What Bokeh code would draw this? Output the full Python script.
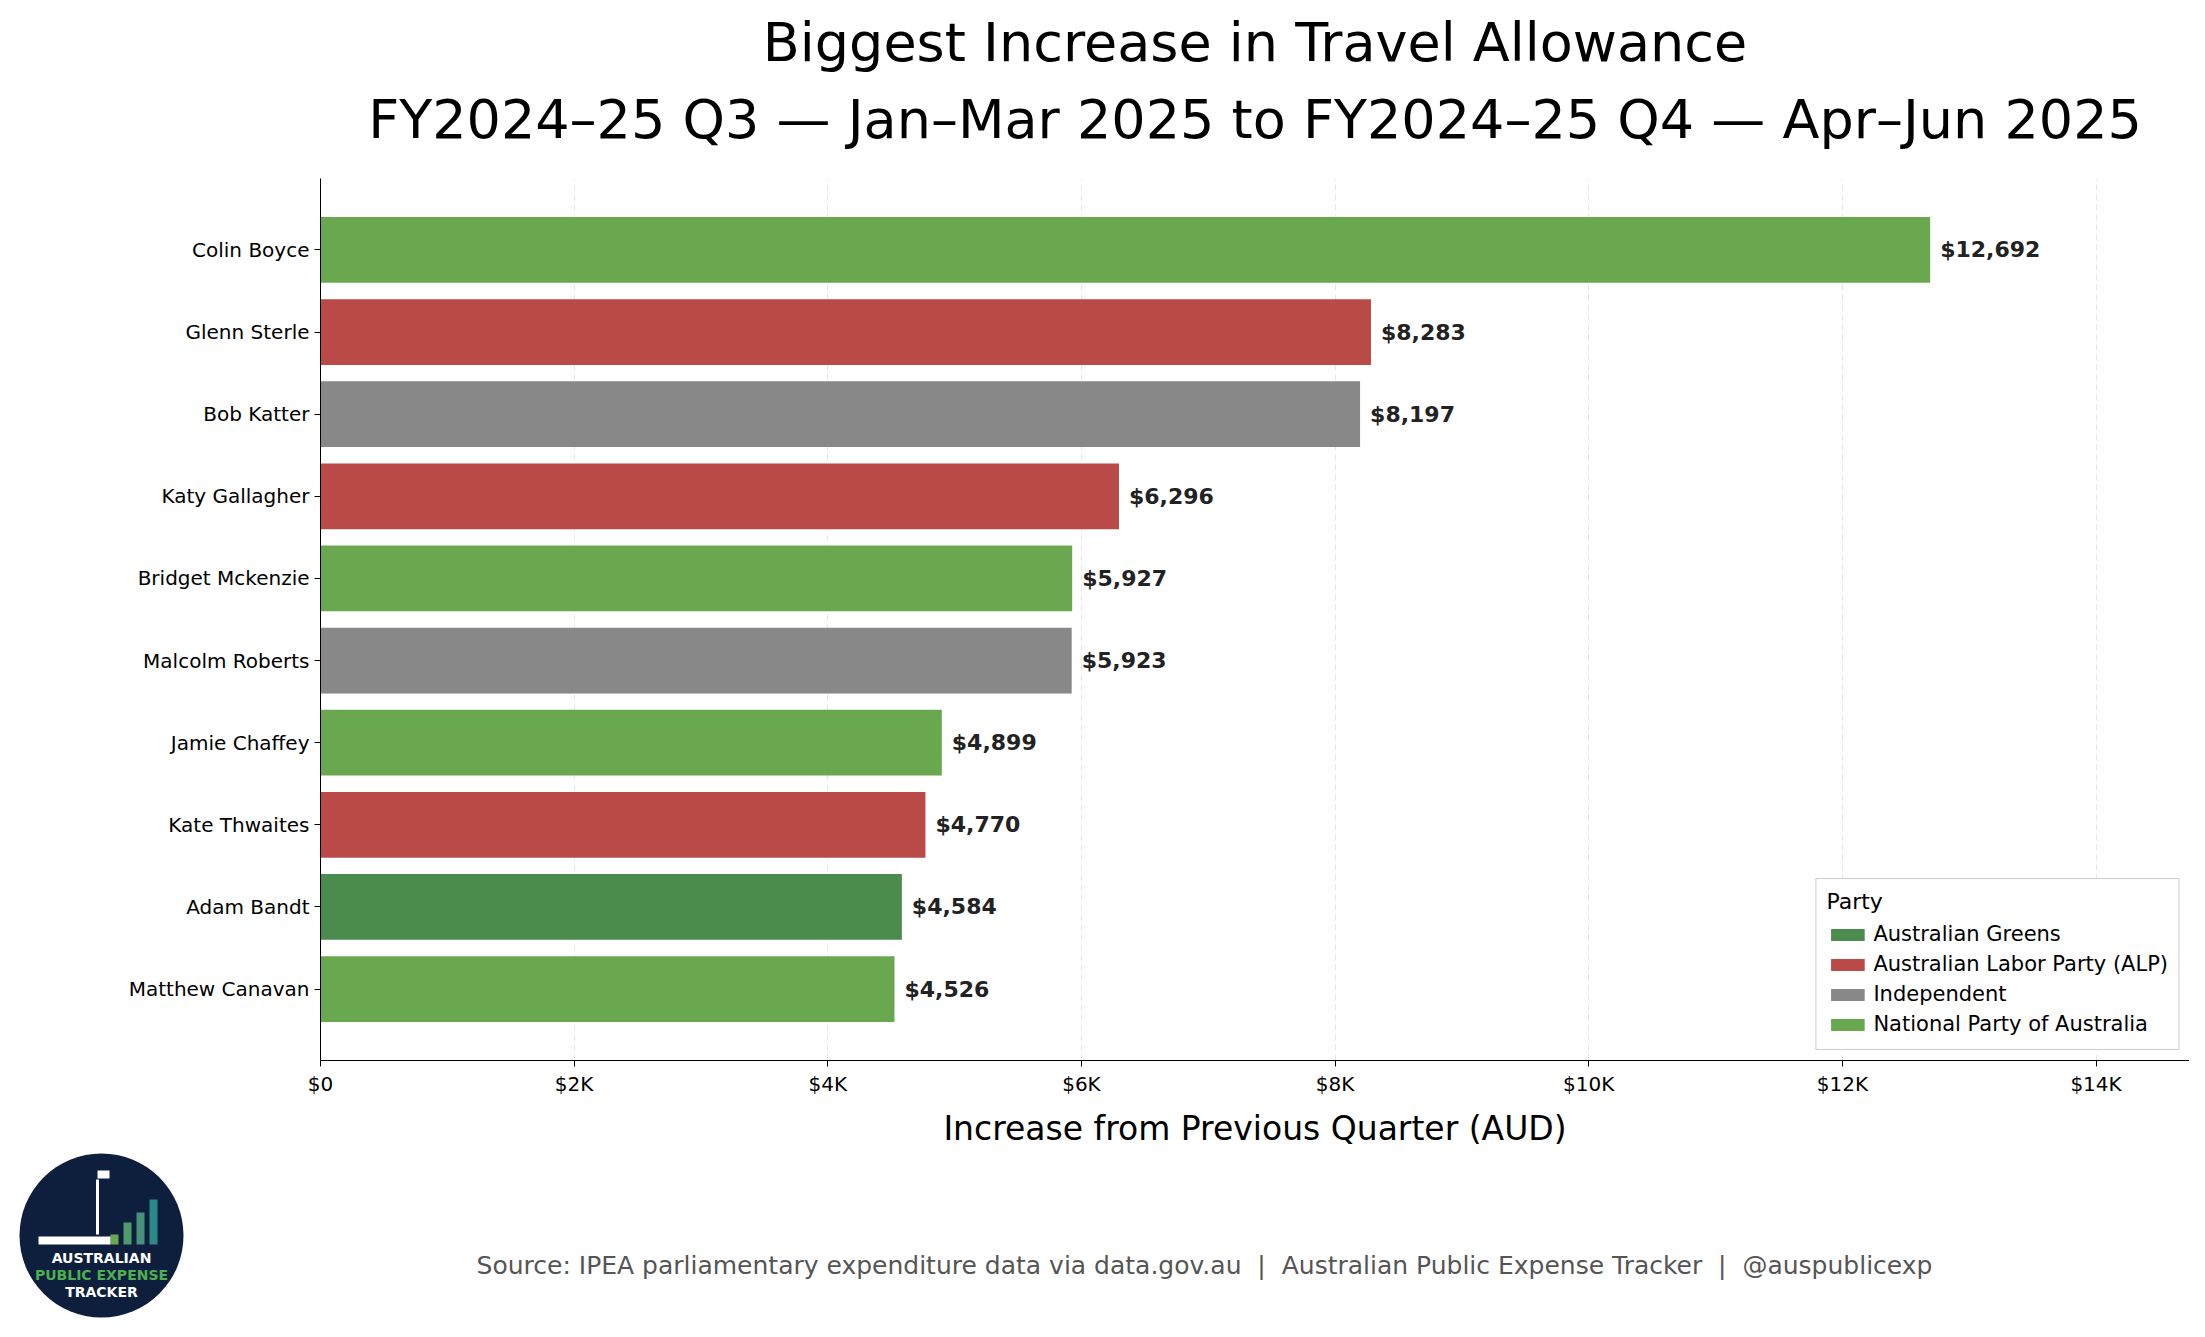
from bokeh.plotting import figure
from bokeh.models import FactorRange, Range1d, Title, Legend, LegendItem, FixedTicker, CustomJSTickFormatter
from bokeh.layouts import column
from bokeh.embed import file_html
from bokeh.resources import INLINE
from bokeh.core.properties import value

names = ["Colin Boyce", "Glenn Sterle", "Bob Katter", "Katy Gallagher", "Bridget Mckenzie",
         "Malcolm Roberts", "Jamie Chaffey", "Kate Thwaites", "Adam Bandt", "Matthew Canavan"]
values = [12692, 8283, 8197, 6296, 5927, 5923, 4899, 4770, 4584, 4526]
parties = ["National Party of Australia", "Australian Labor Party (ALP)", "Independent",
           "Australian Labor Party (ALP)", "National Party of Australia", "Independent",
           "National Party of Australia", "Australian Labor Party (ALP)", "Australian Greens",
           "National Party of Australia"]
party_order = ["Australian Greens", "Australian Labor Party (ALP)", "Independent", "National Party of Australia"]
party_colors = {"Australian Greens": "#4b8b4e", "Australian Labor Party (ALP)": "#b94a48",
                "Independent": "#888888", "National Party of Australia": "#6aa84f"}
xticks = [0, 2000, 4000, 6000, 8000, 10000, 12000, 14000]

FN = "DejaVu Sans"
F = value(FN)
p = figure(width=2189, height=1150, output_backend="svg", toolbar_location=None,
           y_range=FactorRange(factors=names[::-1], range_padding=0.074),
           x_range=Range1d(0, 14737),
           min_border_left=320, min_border_right=0, min_border_top=0, min_border_bottom=10)
p.outline_line_color = None
p.ygrid.grid_line_color = None
p.xgrid.grid_line_color = "#e6e6e6"
p.xgrid.grid_line_dash = "6 4"
p.xaxis.ticker = FixedTicker(ticks=xticks)
p.xaxis.formatter = CustomJSTickFormatter(code="return tick==0 ? '$0' : '$' + (tick/1000) + 'K';")
for ax in (p.xaxis, p.yaxis):
    ax.major_label_text_font_size = "20px"
    ax.major_label_text_font = FN
    ax.major_label_text_color = "#000000"
    ax.axis_line_color = "#000000"
    ax.major_tick_line_color = "#000000"
    ax.minor_tick_line_color = None
    ax.major_tick_out = 6
    ax.major_tick_in = 0
p.xaxis.axis_label = "Increase from Previous Quarter (AUD)"
p.xaxis.axis_label_text_font_size = "33px"
p.xaxis.axis_label_text_font_style = "normal"
p.xaxis.axis_label_text_font = FN
p.xaxis.axis_label_text_color = "#000000"
p.xaxis.axis_label_standoff = 10
p.add_layout(Title(text="FY2024–25 Q3 — Jan–Mar 2025 to FY2024–25 Q4 — Apr–Jun 2025", align="center",
                   text_font_size="54px", text_font_style="normal", text_font=FN, text_color="#000000",
                   standoff=55), "above")
p.add_layout(Title(text="Biggest Increase in Travel Allowance", align="center",
                   text_font_size="54px", text_font_style="normal", text_font=FN, text_color="#000000",
                   standoff=-31), "above")
p.add_layout(Title(text=" ", text_font_size="20px", standoff=0), "above")

items = []
for party in party_order:
    idx = [i for i, pt in enumerate(parties) if pt == party]
    r = p.hbar(y=[names[i] for i in idx], right=[values[i] for i in idx], left=0, height=0.8,
               fill_color=party_colors[party], line_color=None)
    items.append(LegendItem(label=party, renderers=[r]))

p.text(x=values, y=names, text=["$" + format(v, ",") for v in values], x_offset=10,
       text_font=F, text_font_style="bold", text_font_size="22px", text_color="#222222",
       text_baseline="middle")

leg = Legend(items=items, location="bottom_right", title="Party", title_text_font_size="22px",
             title_text_font=FN, title_text_font_style="normal", title_text_color="#000000",
             label_text_font_size="21px", label_text_color="#000000",
             label_text_font=FN, border_line_color="#cccccc", border_line_alpha=1,
             background_fill_alpha=0.9, glyph_width=42, glyph_height=15, label_height=30,
             spacing=0, margin=10, padding=10)
leg.title_location = "above"
p.add_layout(leg)

f = figure(width=2189, height=171, output_backend="svg", toolbar_location=None,
           x_range=Range1d(8, 2197), y_range=Range1d(1329, 1158), min_border=0)
for fig in (p, f):
    if "frame_align" in fig.properties():
        fig.frame_align = False
f.axis.visible = False
f.grid.visible = False
f.outline_line_color = None
f.circle(x=[109], y=[1243], radius=82, fill_color="#0d1f3c", line_color=None)
bx = [122, 135, 148, 161]
bh = [10, 22, 32, 45]
f.vbar(x=bx, bottom=[1252] * 4, top=[1252 - h for h in bh], width=8,
       fill_color=["#6aa84f", "#4e9a6a", "#4a8f7a", "#2e8a8a"], line_color=None)
f.rect(x=[82], y=[1248], width=72, height=8, fill_color="white", line_color=None)
f.segment(x0=[105], y0=[1187], x1=[105], y1=[1242], line_color="white", line_width=3)
f.rect(x=[111], y=[1182], width=12, height=8, fill_color="white", line_color=None)
f.text(x=[109, 109, 109], y=[1265, 1282, 1299], text=["AUSTRALIAN", "PUBLIC EXPENSE", "TRACKER"],
       text_color=["white", "#4caf50", "white"], text_font=F, text_font_style="bold",
       text_font_size="14px", text_align="center", text_baseline="middle")
f.text(x=[1212], y=[1273], text=["Source: IPEA parliamentary expenditure data via data.gov.au\u00a0 |\u00a0 Australian Public Expense Tracker\u00a0 |\u00a0 @auspublicexp"],
       text_color="#555555", text_font=F, text_font_size="25px", text_align="center", text_baseline="middle")

layout = column(p, f, spacing=0)
open("out.html", "w").write(file_html(layout, INLINE))
